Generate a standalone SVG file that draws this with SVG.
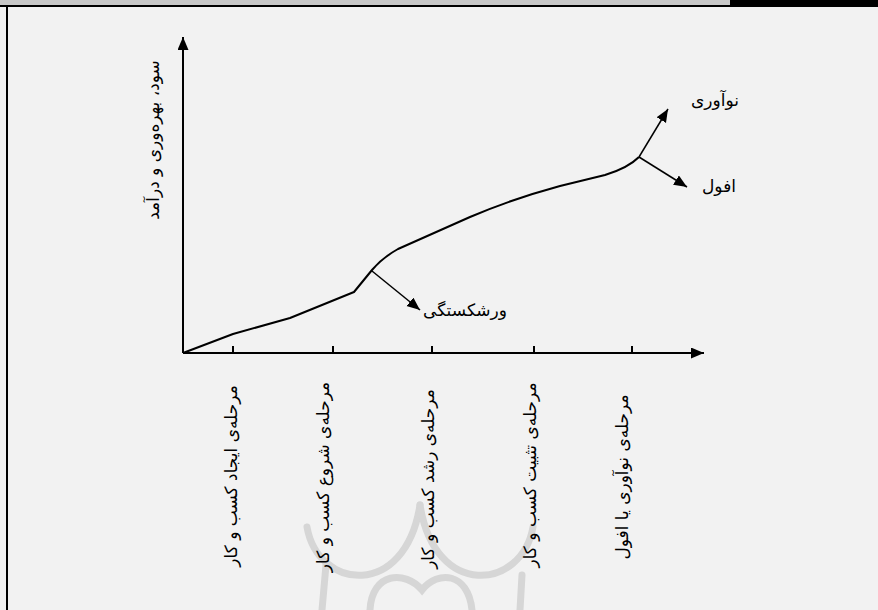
<svg xmlns="http://www.w3.org/2000/svg" width="878" height="610" viewBox="0 0 878 610">
  <defs>
    <marker id="ah" markerUnits="userSpaceOnUse" markerWidth="14" markerHeight="12" refX="13" refY="5.5" orient="auto">
      <path d="M0,0 L13,5.5 L0,11 Z" fill="#000"/>
    </marker>
  </defs>
  <style>
    .t { font-family: "DejaVu Sans", sans-serif; font-size: 17px; fill: #000; }
    .axis { stroke: #000; stroke-width: 2; fill: none; }
    .curve { stroke: #000; stroke-width: 2; fill: none; stroke-linejoin: round; }
    .arr { stroke: #000; stroke-width: 1.5; fill: none; marker-end: url(#ah); }
    .tick { stroke: #000; stroke-width: 2; }
    .wm { stroke: #d6d6d6; stroke-width: 7; fill: none; stroke-linecap: round; }
  </style>
  <rect x="0" y="0" width="878" height="610" fill="#f2f2f2"/>
  <!-- frame -->
  <rect x="0" y="0" width="730" height="5" fill="#c8c8c8"/>
  <rect x="730" y="0" width="148" height="7" fill="#000"/>
  <rect x="0" y="5" width="878" height="2" fill="#000"/>
  <rect x="6" y="5" width="2" height="605" fill="#000"/>
  <!-- watermark -->
  <g id="watermark">
    <path class="wm" d="M307,527 C318,590 405,600 420,505"/>
    <path class="wm" d="M420,505 C435,600 522,590 533,527"/>
    <path class="wm" d="M326,565 L322,610"/>
    <path class="wm" d="M370,610 C372,572 405,570 422,590 C438,570 468,572 472,610"/>
    <path class="wm" d="M522,575 L520,610"/>
  </g>
  <!-- axes and connectors -->
  <g id="connectors">
    <line class="axis" x1="183" y1="353" x2="183" y2="37" marker-end="url(#ah)"/>
    <line class="axis" x1="183" y1="353" x2="704" y2="353" marker-end="url(#ah)"/>
    <line class="tick" x1="233" y1="346" x2="233" y2="353"/>
    <line class="tick" x1="333" y1="346" x2="333" y2="353"/>
    <line class="tick" x1="432" y1="346" x2="432" y2="353"/>
    <line class="tick" x1="534" y1="346" x2="534" y2="353"/>
    <line class="tick" x1="632" y1="346" x2="632" y2="353"/>
    <path class="curve" d="M183,353 L233,334 L290,318 L354,292 L372,270 Q382,258 398,249 L470,217 Q512,199 560,186 L605,175 Q628,168 639,157"/>
    <line class="arr" x1="639" y1="157" x2="668" y2="109"/>
    <line class="arr" x1="639" y1="157" x2="687" y2="187"/>
    <line class="arr" x1="372" y1="271" x2="420" y2="310"/>
  </g>
  <!-- labels -->
  <g id="y-label"><text class="t" text-anchor="middle" transform="translate(159,140) rotate(-90)">سود، بهره‌وری و درآمد</text></g>
  <g id="innovation"><text class="t" x="715" y="106" text-anchor="middle">نوآوری</text></g>
  <g id="decline"><text class="t" x="719" y="192" text-anchor="middle">افول</text></g>
  <g id="bankruptcy"><text class="t" x="465" y="316" text-anchor="middle">ورشکستگی</text></g>
  <g id="stage1"><text class="t" text-anchor="middle" transform="translate(237,476) rotate(-90)">مرحله‌ی ایجاد کسب و کار</text></g>
  <g id="stage2"><text class="t" text-anchor="middle" transform="translate(329,477) rotate(-90)">مرحله‌ی شروع کسب و کار</text></g>
  <g id="stage3"><text class="t" text-anchor="middle" transform="translate(434,479) rotate(-90)">مرحله‌ی رشد کسب و کار</text></g>
  <g id="stage4"><text class="t" text-anchor="middle" transform="translate(536,475) rotate(-90)">مرحله‌ی تثبیت کسب و کار</text></g>
  <g id="stage5"><text class="t" text-anchor="middle" transform="translate(628,477) rotate(-90)">مرحله‌ی نوآوری یا افول</text></g>
</svg>
